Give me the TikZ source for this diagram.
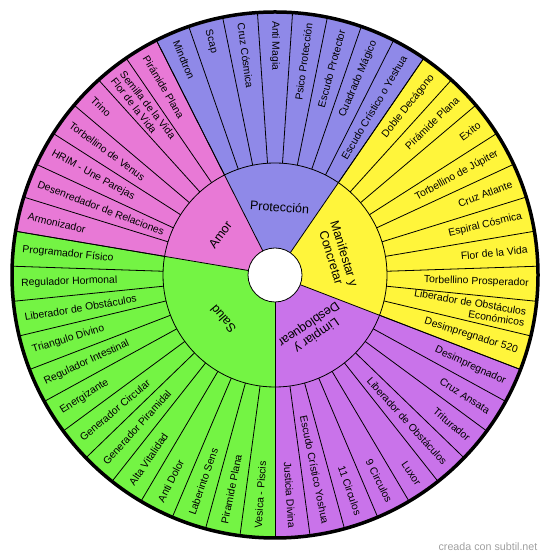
\documentclass[tikz,border=0pt]{standalone}
\usepackage{fontspec}
\setmainfont{Liberation Sans}
\definecolor{prot}{RGB}{143,137,232}
\definecolor{manif}{RGB}{255,245,59}
\definecolor{limp}{RGB}{201,115,234}
\definecolor{salud}{RGB}{116,244,68}
\definecolor{amor}{RGB}{232,121,214}
\definecolor{firma}{RGB}{160,160,160}

\begin{document}
\begin{tikzpicture}[x=1pt,y=1pt,
  lbl/.style={font=\fontsize{10.4}{11.4}\selectfont, inner sep=0pt},
  cat/.style={font=\fontsize{12.5}{13.6}\selectfont, align=center, inner sep=0pt}]
  \useasboundingbox (0,0) rectangle (550,559);
  \begin{scope}[shift={(275,284)}]
    \foreach \a/\b/\c in {-90/-21.064/limp, -21.064/55.532/manif, 55.532/116.809/prot,
                          116.809/170.426/amor, 170.426/270/salud}
      \fill[\c] (0,0) -- (\a:263) arc[start angle=\a, end angle=\b, radius=263] -- cycle;
    \foreach \k in {1,...,46}
      \draw[line width=0.8] ({-90+\k*7.659574}:112) -- ({-90+\k*7.659574}:263);
    \draw[line width=0.8] (0,0) circle[radius=112];
    \foreach \a in {-90,-21.064,55.532,116.809,170.426}
      \draw[line width=0.8] (\a:27) -- (\a:263);
    \filldraw[fill=white, line width=0.8] (0,0) circle[radius=27];
    \draw[line width=3.5] (0,0) circle[radius=263];

    \foreach \k/\t [evaluate=\k as \a using -90+(\k+0.5)*7.659574] in
      {0/Justicia Divina, 1/Escudo Crístico Yoshua, 2/11 Circulos, 3/9 Circulos, 4/Luxor,
       5/Liberador de Obstáculos, 6/Triturador, 7/Cruz Ansata, 8/Desimpregnador,
       9/Desimpregnador 520, 10/{Liberador de Obstáculos\\Económicos}, 11/Torbellino Prosperador,
       12/Flor de la Vida, 13/Espiral Cósmica, 14/Cruz Atlante, 15/Torbellino de Júpiter,
       16/Exito, 17/Pirámide Plana, 18/Doble Decágono,
       19/Escudo Crístico o Yeshua, 20/Cuadrado Mágico, 21/Escudo Protector, 22/Psico Protección}
      \node[lbl, anchor=east, align=right, rotate=\a] (s\k) at (\a:254) {\t};
    \foreach \k/\t [evaluate=\k as \a using -90+(\k+0.5)*7.659574] in
      {23/Anti Magia, 24/Cruz Cósmica, 25/Scap, 26/Mindtron,
       27/Pirámide Plana, 28/{Semilla de la Vida\\Flor de la Vida}, 29/Trino, 30/Torbellino de Venus,
       31/HRIM - Une Parejas, 32/Desenredador de Relaciones, 33/Armonizador,
       34/Programador Físico, 35/Regulador Hormonal, 36/Liberador de Obstáculos, 37/Triangulo Divino,
       38/Regulador Intestinal, 39/Energizante, 40/Generador Circular, 41/Generador Piramidal,
       42/Alta Vitalidad, 43/Anti Dolor, 44/Laberinto Sens, 45/Piramide Plana, 46/Vesica - Piscis}
      \node[lbl, anchor=west, align=left, rotate=\a+180] (s\k) at (\a:254) {\t};

    \node[cat, rotate=-3.83] (cprot) at (86.17:68) {Protección};
    \node[cat, rotate=-72.77] (cmanif) at (17.23:66) {Manifestar y\\Concretar};
    \node[cat, rotate=-145.53] (climp) at (-55.53:66) {Limpiar y\\Desbloquear};
    \node[cat, rotate=130.21] (csalud) at (220.21:68) {Salud};
    \node[cat, rotate=53.62] (camor) at (143.62:68) {Amor};
  \end{scope}
  \node[font=\fontsize{10.7}{12}\selectfont, text=firma, inner sep=0pt] (marca) at (488,12) {creada con subtil.net};
\end{tikzpicture}
\end{document}
